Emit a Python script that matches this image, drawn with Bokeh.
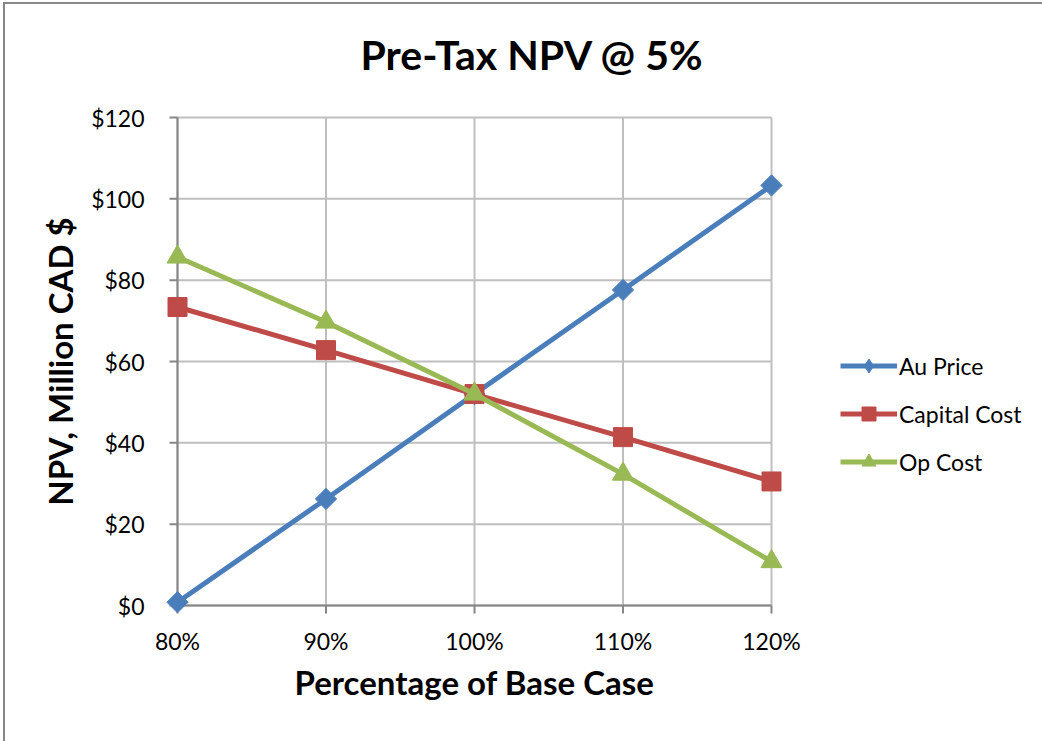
import numpy as np
from bokeh.plotting import figure
from bokeh.models import (Range1d, FixedTicker, PrintfTickFormatter, Legend,
                          LegendItem, ColumnDataSource)
from bokeh.embed import file_html
from bokeh.resources import INLINE

# ---- data ----
pct = [80, 90, 100, 110, 120]
au_price = [0.8, 26.2, 52.0, 77.6, 103.3]
capital_cost = [73.4, 62.8, 52.0, 41.4, 30.5]
op_cost = [85.7, 69.7, 52.0, 32.3, 10.8]
series_names = ["Au Price", "Capital Cost", "Op Cost"]
y_ticks = [0, 20, 40, 60, 80, 100, 120]
title_text = "Pre-Tax NPV @ 5%"
x_title = "Percentage of Base Case"
y_title = "NPV, Million CAD $"

colors = ["#4A7EBB", "#BE4B48", "#98B954"]
FONT = "Lato"
AXIS_COL = "#868686"
GRID_COL = "#BFBFBF"

# plot area 594 x 488 px, padded by 12 px so that end markers are not clipped
PAD = 12
xs = 594 / 40.0
ys = 488 / 120.0
xpad = PAD / xs
ypad = PAD / ys
TICK = 8

p = figure(width=1036, height=737, output_backend="svg", toolbar_location=None,
           x_range=Range1d(pct[0] - xpad, pct[-1] + xpad),
           y_range=Range1d(y_ticks[0] - ypad, y_ticks[-1] + ypad),
           frame_width=594 + 2 * PAD, frame_height=488 + 2 * PAD,
           min_border_left=160, min_border_top=101, min_border_right=258,
           min_border_bottom=124)
p.styles = {"margin-left": "5px", "margin-top": "4px",
            "outline": "2px solid #878787", "outline-offset": "0px"}
p.outline_line_color = None
p.background_fill_color = "white"
p.border_fill_color = "white"

# title
p.title.text = title_text
p.title.align = "left"
p.title.offset = 195
p.title.standoff = 50
p.title.vertical_align = "top"
p.title.text_font = FONT
p.title.text_font_size = "41px"
p.title.text_font_style = "bold"
p.title.text_color = "black"

# grid lines (from tick arrays, limited to the plot area)
p.xgrid.visible = False
p.ygrid.visible = False
p.segment(x0=pct, y0=[y_ticks[0]] * len(pct), x1=pct, y1=[y_ticks[-1]] * len(pct),
          line_color=GRID_COL, line_width=2)
p.segment(x0=[pct[0]] * len(y_ticks), y0=y_ticks, x1=[pct[-1]] * len(y_ticks), y1=y_ticks,
          line_color=GRID_COL, line_width=2)
# axis lines and tick marks at the plot-area edges
p.segment(x0=[pct[0]], y0=[y_ticks[0]], x1=[pct[0]], y1=[y_ticks[-1]],
          line_color=AXIS_COL, line_width=2)
p.segment(x0=[pct[0]], y0=[y_ticks[0]], x1=[pct[-1]], y1=[y_ticks[0]],
          line_color=AXIS_COL, line_width=2)
p.segment(x0=[pct[0] - TICK / xs] * len(y_ticks), y0=y_ticks,
          x1=[pct[0]] * len(y_ticks), y1=y_ticks, line_color=AXIS_COL, line_width=2)
p.segment(x0=pct, y0=[y_ticks[0] - TICK / ys] * len(pct),
          x1=pct, y1=[y_ticks[0]] * len(pct), line_color=AXIS_COL, line_width=2)

# axes (labels only; lines drawn above at the plot area)
p.xaxis.ticker = FixedTicker(ticks=pct)
p.yaxis.ticker = FixedTicker(ticks=y_ticks)
p.xaxis.formatter = PrintfTickFormatter(format="%d%%")
p.yaxis.formatter = PrintfTickFormatter(format="$%d")
for ax in (p.xaxis, p.yaxis):
    ax.axis_line_color = None
    ax.major_tick_line_color = None
    ax.major_tick_in = 0
    ax.major_tick_out = 0
    ax.minor_tick_line_color = None
    ax.minor_tick_in = 0
    ax.minor_tick_out = 0
    ax.major_label_text_font = FONT
    ax.major_label_text_font_size = "23px"
    ax.major_label_text_color = "black"
    ax.axis_label_text_font = FONT
    ax.axis_label_text_font_size = "33px"
    ax.axis_label_text_font_style = "bold"
    ax.axis_label_text_color = "black"
p.xaxis.major_label_standoff = 9
p.yaxis.major_label_standoff = 21
p.xaxis.axis_label = x_title
p.yaxis.axis_label = y_title
p.xaxis.axis_label_standoff = 4
p.yaxis.axis_label_standoff = 8

# series
series = [au_price, capital_cost, op_cost]
markers = [("square", 15, np.pi / 4), ("square", 19, 0.0), ("triangle", 21, 0.0)]
legend_markers = ["diamond", "square", "triangle"]
items = []
for name, vals, col, (mk, sz, ang), lmk in zip(series_names, series, colors, markers, legend_markers):
    src = ColumnDataSource(dict(x=pct, y=vals))
    r1 = p.line("x", "y", source=src, line_color=col, line_width=5)
    if lmk != mk:
        # zero-size marker, used only for the legend symbol
        r3 = p.scatter("x", "y", source=src, marker=lmk, size=0,
                       fill_color=col, line_color=col)
    r2 = p.scatter("x", "y", source=src, marker=mk, size=sz, angle=ang,
                   fill_color=col, line_color=col)
    items.append(LegendItem(label=name, renderers=[r1, r3 if lmk != mk else r2]))

legend = Legend(items=items, location=(57, 138))
legend.glyph_width = 57
legend.glyph_height = 35
legend.label_height = 35
legend.spacing = 13
legend.padding = 0
legend.margin = 0
legend.label_standoff = 2
legend.label_text_font = FONT
legend.label_text_font_size = "23px"
legend.label_text_color = "black"
legend.border_line_color = None
legend.background_fill_alpha = 0
p.add_layout(legend, "right")

open("out.html", "w").write(file_html(p, INLINE))
